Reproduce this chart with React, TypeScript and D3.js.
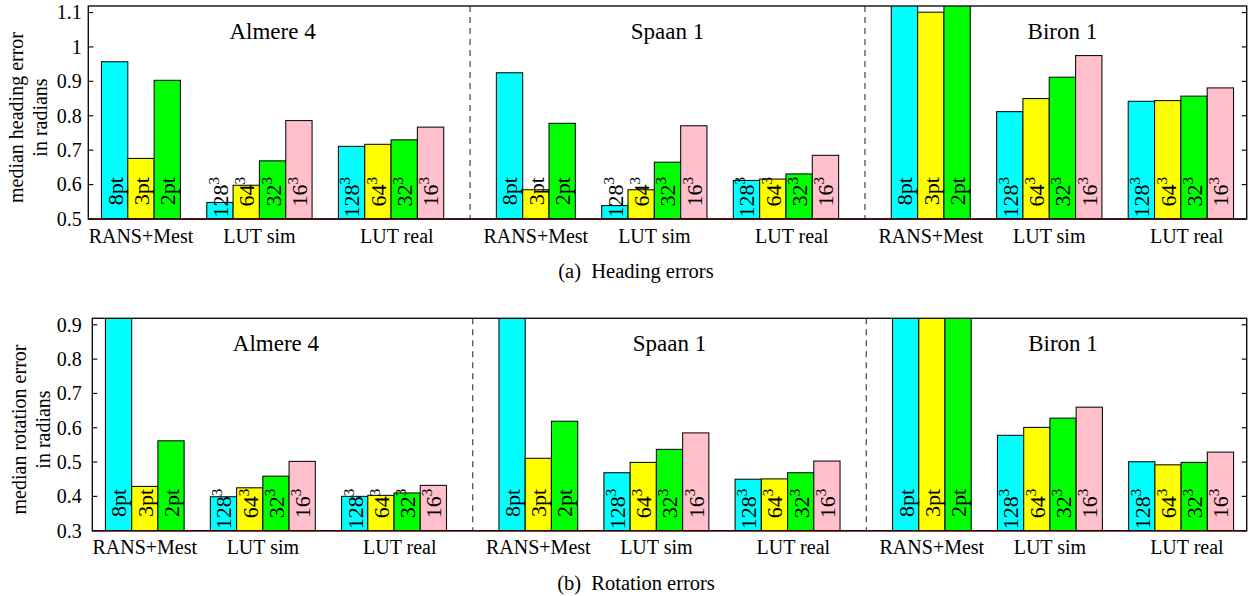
import * as d3 from 'd3';
import React from 'react';

// datasets, groups and bar labels
const datasets = ['Almere 4', 'Spaan 1', 'Biron 1'];
const groups = ['RANS+Mest', 'LUT sim', 'LUT real'];
const ransLabels = ['8pt', '3pt', '2pt'];
const lutLabels = ['128', '64', '32', '16'];
const colors = ['#00ffff', '#ffff00', '#00ff00', '#ffc0cb'];

// (a) heading errors, one row per dataset
const headingRans = [[0.957, 0.676, 0.903], [0.925, 0.585, 0.778], [1.2, 1.101, 1.2]];
const headingLutSim = [[0.548, 0.598, 0.669, 0.786], [0.539, 0.585, 0.665, 0.771], [0.812, 0.85, 0.912, 0.975]];
const headingLutReal = [[0.711, 0.717, 0.73, 0.767], [0.612, 0.616, 0.631, 0.685], [0.842, 0.844, 0.857, 0.881]];

// (b) rotation errors
const rotationRans = [[1.0, 0.429, 0.562], [1.0, 0.511, 0.619], [1.0, 1.0, 1.0]];
const rotationLutSim = [[0.399, 0.425, 0.459, 0.502], [0.469, 0.499, 0.537, 0.585], [0.578, 0.601, 0.628, 0.66]];
const rotationLutReal = [[0.4, 0.403, 0.41, 0.432], [0.45, 0.451, 0.469, 0.503], [0.501, 0.492, 0.499, 0.529]];

const headingTicks = [0.5, 0.6, 0.7, 0.8, 0.9, 1, 1.1];
const rotationTicks = [0.3, 0.4, 0.5, 0.6, 0.7, 0.8, 0.9];

const font = '"Liberation Serif", "Times New Roman", serif';

// slot layout: each dataset takes 15 slots, groups start at these slots
const groupStart = [1, 5, 10];
const datasetSpan = 15;

function Panel({ id, left, right, top, bottom, domain, ticks, rans, lutSim, lutReal, yLabel, tickGap, yTitleX, caption, captionY }) {
    const x = d3.scaleLinear().domain([0, 44]).range([left, right]);
    const y = d3.scaleLinear().domain(domain).range([bottom, top]);
    const w = x(1) - x(0);
    const labelEnd = y(domain[0] + 0.122);

    const bars = [];
    datasets.forEach((ds, d) => {
        const rows = [rans[d], lutSim[d], lutReal[d]];
        rows.forEach((vals, g) => {
            vals.forEach((v, i) => {
                const c = groupStart[g] + datasetSpan * d + i;
                bars.push({ key: ds + g + i, c, v, color: colors[i], label: g === 0 ? ransLabels[i] : lutLabels[i], sup: g !== 0 });
            });
        });
    });

    const yMid = (top + bottom) / 2;

    return (
        <g>
            <defs>
                <clipPath id={'clip' + id}>
                    <rect x={left} y={top} width={right - left} height={bottom - top} />
                </clipPath>
            </defs>
            <g clipPath={`url(#clip${id})`}>
                {bars.map(b => (
                    <rect key={b.key} x={x(b.c - 0.5)} y={y(b.v)} width={w} height={bottom - y(b.v)}
                        fill={b.color} stroke="#111" strokeWidth={1.1} />
                ))}
            </g>
            {bars.map(b => (
                <text key={'t' + b.key} transform={`translate(${x(b.c)},${labelEnd}) rotate(-90)`}
                    dy="0.36em" textAnchor="end" fontFamily={font} fontSize={22} fill="#000">
                    {b.label}
                    {b.sup ? <tspan fontSize={15} dy="-0.6em">3</tspan> : null}
                </text>
            ))}
            {[14.5, 29.5].map(s => (
                <line key={s} x1={x(s)} x2={x(s)} y1={top} y2={bottom} stroke="#444" strokeWidth={1.2} strokeDasharray="6,5" />
            ))}
            <rect x={left} y={top} width={right - left} height={bottom - top} fill="none" stroke="#111" strokeWidth={1.4} />
            <line x1={left} x2={right} y1={bottom} y2={bottom} stroke="#3a0000" strokeWidth={1.6} />
            {ticks.map(t => (
                <g key={t}>
                    <line x1={left} x2={left + 5} y1={y(t)} y2={y(t)} stroke="#111" strokeWidth={1.2} />
                    <line x1={right} x2={right - 5} y1={y(t)} y2={y(t)} stroke="#111" strokeWidth={1.2} />
                    <text x={left - tickGap} y={y(t)} dy="0.34em" textAnchor="end" fontFamily={font} fontSize={20}>{t === 1 ? '1' : t.toFixed(1)}</text>
                </g>
            ))}
            {datasets.map((ds, d) => (
                <text key={ds} x={x(7 + datasetSpan * d)} y={top + 33} textAnchor="middle" fontFamily={font} fontSize={23}>{ds}</text>
            ))}
            {datasets.map((ds, d) => groups.map((gname, g) => {
                const n = g === 0 ? 3 : 4;
                const mid = groupStart[g] + datasetSpan * d + (n - 1) / 2 + (g === 2 ? 0.22 : 0);
                return (
                    <text key={ds + gname} x={x(mid)} y={bottom + 23.5} textAnchor="middle" fontFamily={font} fontSize={20}>{gname}</text>
                );
            }))}
            <text transform={`translate(${yTitleX},${yMid + 5}) rotate(-90)`} textAnchor="middle" fontFamily={font} fontSize={20}>
                <tspan x={0} dy={0}>{yLabel}</tspan>
                <tspan x={0} dy={24}>in radians</tspan>
            </text>
            <text x={636} y={captionY} textAnchor="middle" fontFamily={font} fontSize={20.5} style={{ whiteSpace: 'pre' }}>{caption}</text>
        </g>
    );
}

export default function App() {
    return (
        <svg width={1249} height={596} style={{ position: 'absolute', left: 0, top: 0, background: '#fff' }}>
            <Panel id="a" left={88.3} right={1246.7} top={6} bottom={219} domain={[0.5, 1.119]} ticks={headingTicks}
                rans={headingRans} lutSim={headingLutSim} lutReal={headingLutReal}
                yLabel="median heading error" tickGap={6.5} yTitleX={23} caption="(a)  Heading errors" captionY={278} />
            <Panel id="b" left={92.3} right={1246.7} top={318.3} bottom={530.7} domain={[0.3, 0.919]} ticks={rotationTicks}
                rans={rotationRans} lutSim={rotationLutSim} lutReal={rotationLutReal}
                yLabel="median rotation error" tickGap={10.5} yTitleX={26} caption="(b)  Rotation errors" captionY={590} />
        </svg>
    );
}
